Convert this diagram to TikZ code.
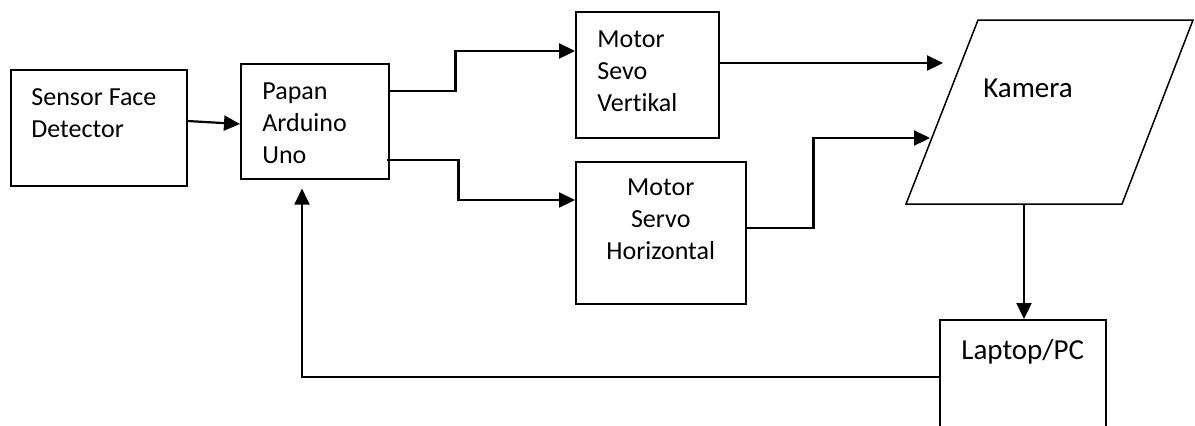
\documentclass[tikz,border=0pt]{standalone}
\usepackage{fontspec}
\setmainfont{Carlito}[Ligatures=NoCommon]
\usetikzlibrary{arrows.meta, calc, positioning}

\begin{document}
\begin{tikzpicture}[x=0.5pt, y=-0.5pt,
    blok/.style={draw=black, line width=0.75pt, anchor=north west, inner sep=0pt},
    teks/.style={font=\fontsize{13pt}{16pt}\selectfont, inner sep=0pt, text width=80pt,
        execute at begin node={\spaceskip=0pt\xspaceskip=0pt\relax}},
    teksbesar/.style={teks, font=\fontsize{14.5pt}{17pt}\selectfont},
    panah/.style={line width=1.1pt, -{Triangle[length=8pt, width=7.5pt]}}]
    % ══════════════════════════════════════════════
    % ══ BLOK ══
    % ══════════════════════════════════════════════
    \clip (0,0) rectangle (1195,425);

    % Sensor
    \node[blok, minimum width=88pt, minimum height=58pt] (sensor) at (10,69) {};
    \node[teks, anchor=base west, align=left] (sensorT) at ($(sensor.north west)+(21,36)$) {Sensor Face\\Detector};

    % Arduino
    \node[blok, minimum width=74pt, minimum height=57.5pt] (papan) at (240,63) {};
    \node[teks, anchor=base west, align=left] (papanT) at ($(papan.north west)+(22,36)$) {Papan\\Arduino\\Uno};

    % Servo vertikal
    \node[blok, minimum width=71.5pt, minimum height=63pt] (vert) at (575,11) {};
    \node[teks, anchor=base west, align=left] (vertT) at ($(vert.north west)+(22,36)$) {Motor\\Sevo\\Vertikal};

    % Servo horizontal
    \node[blok, minimum width=85pt, minimum height=71pt] (horiz) at (575,161) {};
    \node[teks, anchor=base, align=center] (horizT) at ($(horiz.north)+(0,34)$) {Motor\\Servo\\Horizontal};

    % Kamera (jajar genjang)
    \coordinate (kBL) at (906,204);
    \coordinate (kBR) at (1122,204);
    \coordinate (kTR) at (1193,20);
    \coordinate (kTL) at (978,20);
    \draw[line width=0.75pt] (kBL) -- (kBR) -- (kTR) -- (kTL) -- cycle;
    \node[teksbesar, anchor=base, align=center] (kamera) at (1028,97) {Kamera};
    \coordinate (kIn1) at (943,63);
    \coordinate (kIn2) at (930,138);
    \coordinate (kOut) at (1024,204);

    % Laptop
    \node[blok, minimum width=83pt, minimum height=80pt] (laptop) at (939,319) {};
    \node[teksbesar, anchor=base, align=center] (laptopT) at ($(laptop.north)+(0,40)$) {Laptop/PC};

    % ══════════════════════════════════════════════
    % ══ PANAH ══
    % ══════════════════════════════════════════════
    \draw[panah] ($(sensor.north east)+(0,52)$) -- ($(papan.north west)+(0,61)$);

    \draw[panah] ($(papan.north east)+(0,28)$) -- ++(66,0) |- ($(vert.north west)+(0,40)$);
    \draw[panah] ($(papan.north east)+(-3,97)$) -- ++(72,0) |- ($(horiz.north west)+(0,39)$);

    \draw[panah] ($(vert.north east)+(0,52)$) -- (kIn1);
    \draw[panah] ($(horiz.north east)+(0,67)$) -- ++(67,0) |- (kIn2);

    \draw[panah] (kOut) -- (kOut |- laptop.north);

    % Umpan balik
    \coordinate (balik) at ($(papan.south west)+(62,9)$);
    \draw[panah, line width=0.9pt] ($(laptop.north west)+(0,58)$) -| (balik);

\end{tikzpicture}
\end{document}
